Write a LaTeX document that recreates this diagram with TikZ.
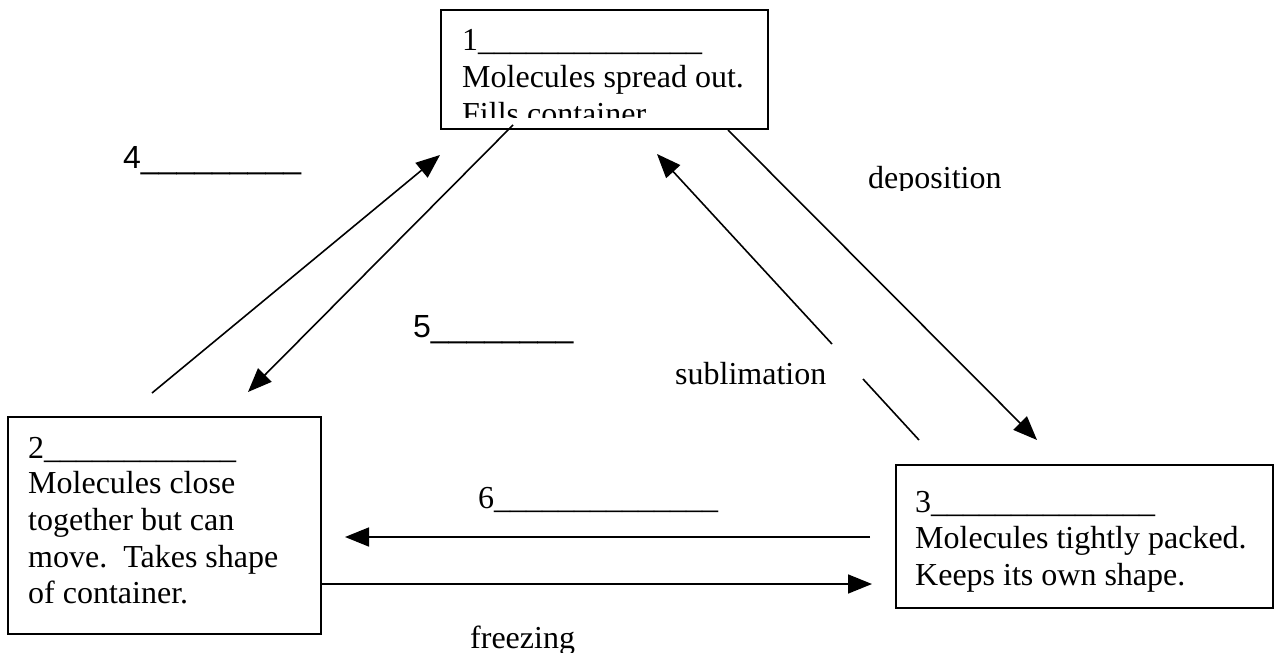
\documentclass[tikz,border=0pt]{standalone}
\usepackage{fontspec}
\setmainfont{Liberation Serif}
\newfontfamily\arialfont{Liberation Sans}
\usetikzlibrary{arrows.meta}
\begin{document}
\begin{tikzpicture}[x=1pt,y=-1pt,
  box/.style={draw, line width=1.6pt, inner sep=0pt, anchor=north west},
  txt/.style={anchor=base west, inner sep=0pt, font=\fontsize{32}{37}\selectfont},
  stxt/.style={anchor=base west, inner sep=0pt, font=\arialfont\fontsize{32}{37}\selectfont},
  conn/.style={line width=1.6pt, -{Triangle[length=24pt,width=19pt]}},
  plainline/.style={line width=1.6pt}]
\useasboundingbox (0,0) rectangle (1274,653);
% boxes
\node[box, minimum width=327pt, minimum height=119pt] (b1) at (440,9) {};
\node[box, minimum width=313pt, minimum height=217pt] (b2) at (7,416) {};
\node[box, minimum width=377pt, minimum height=143pt] (b3) at (895,464) {};
% box 1 text
\node[txt] (t11) at (462,50) {1\_\_\_\_\_\_\_\_\_\_\_\_\_\_};
\node[txt] (t12) at (462,87) {Molecules spread out.};
\begin{scope}
\clip (440,9) rectangle (767,117);
\node[txt] (t13) at (462,124) {Fills container};
\end{scope}
% box 2 text
\node[txt] (t21) at (28,458) {2\_\_\_\_\_\_\_\_\_\_\_\_};
\node[txt] (t22) at (28,493) {Molecules close};
\node[txt] (t23) at (28,530) {together but can};
\node[txt] (t24) at (28,567) {move.\ \ Takes shape};
\node[txt] (t25) at (28,603) {of container.};
% box 3 text
\node[txt] (t31) at (915,512) {3\_\_\_\_\_\_\_\_\_\_\_\_\_\_};
\node[txt] (t32) at (915,548) {Molecules tightly packed.};
\node[txt] (t33) at (915,585) {Keeps its own shape.};
% labels
\node[stxt] (l4) at (123,168) {4\_\_\_\_\_\_\_\_\_};
\node[stxt] (l5) at (413,337) {5\_\_\_\_\_\_\_\_};
\node[txt] (l6) at (478,508) {6\_\_\_\_\_\_\_\_\_\_\_\_\_\_};
\node[txt] (ls) at (675,384) {sublimation};
\begin{scope}
\clip (800,150) rectangle (1100,190);
\node[txt] (ld) at (868,188) {deposition};
\end{scope}
\node[txt] (lf) at (470,648) {freezing};
% connectors
\coordinate (a1) at (152,393); \coordinate (a2) at (440,155);
\draw[conn] (a1) -- (a2);
\coordinate (bb1) at (513,125); \coordinate (bb2) at (248,392);
\draw[conn] (bb1) -- (bb2);
\coordinate (c0) at (919,440); \coordinate (c1) at (863,379);
\coordinate (c2) at (832,344); \coordinate (c3) at (657,154);
\draw[plainline] (c0) -- (c1);
\draw[conn] (c2) -- (c3);
\coordinate (d1) at (728,130); \coordinate (d2) at (1037,440);
\draw[conn] (d1) -- (d2);
\coordinate (e1) at (870,537); \coordinate (e2) at (345,537);
\draw[conn] (e1) -- (e2);
\coordinate (f1) at (b2.east |- 0,584); \coordinate (f2) at (872,584);
\draw[conn] (f1) -- (f2);
\end{tikzpicture}
\end{document}
